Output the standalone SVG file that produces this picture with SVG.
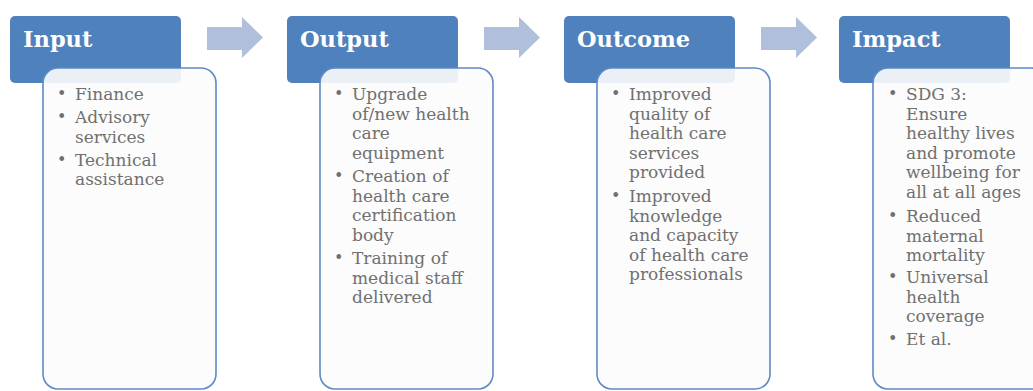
<svg xmlns="http://www.w3.org/2000/svg" width="1033" height="391" viewBox="0 0 1033 391">
<style>
.hdr{fill:#4f81bd}
.box{fill:#fcfcfc;fill-opacity:0.9;stroke:#5f89c5;stroke-width:1.6}
.ht{font-family:"DejaVu Serif","Liberation Serif",serif;font-weight:bold;font-size:22.5px;fill:#ffffff}
.t{font-family:"DejaVu Serif","Liberation Serif",serif;font-size:17px;fill:#707070}
.b{font-family:"DejaVu Serif","Liberation Serif",serif;font-size:16px;fill:#707070}
.arr{fill:#b0bfdb}
</style>
<rect width="1033" height="391" fill="#ffffff"/>
<g id="connectors">
<polygon class="arr" points="207,27 242,27 242,17 263,37.5 242,58 242,50 207,50"/>
<polygon class="arr" points="484,27 519,27 519,17 540,37.5 519,58 519,50 484,50"/>
<polygon class="arr" points="761,27 796,27 796,17 817,37.5 796,58 796,50 761,50"/>
</g>
<g id="input">
<rect class="hdr" x="10" y="16" width="171" height="67" rx="5"/>
<text class="ht" x="23" y="47">Input</text>
<rect class="box" x="43" y="68" width="173" height="321" rx="15"/>
<text class="b" x="57" y="99">•</text><text class="t" x="75" y="100">Finance</text>
<text class="b" x="57" y="122">•</text><text class="t" x="75" y="123">Advisory</text>
<text class="t" x="75" y="143">services</text>
<text class="b" x="57" y="165">•</text><text class="t" x="75" y="166">Technical</text>
<text class="t" x="75" y="185">assistance</text>
</g>
<g id="output">
<rect class="hdr" x="287" y="16" width="171" height="67" rx="5"/>
<text class="ht" x="300" y="47">Output</text>
<rect class="box" x="320" y="68" width="173" height="321" rx="15"/>
<text class="b" x="334" y="99">•</text><text class="t" x="352" y="100">Upgrade</text>
<text class="t" x="352" y="119.5">of/new health</text>
<text class="t" x="352" y="139">care</text>
<text class="t" x="352" y="158.5">equipment</text>
<text class="b" x="334" y="181">•</text><text class="t" x="352" y="182">Creation of</text>
<text class="t" x="352" y="201.5">health care</text>
<text class="t" x="352" y="221">certification</text>
<text class="t" x="352" y="240.5">body</text>
<text class="b" x="334" y="263">•</text><text class="t" x="352" y="264">Training of</text>
<text class="t" x="352" y="283.5">medical staff</text>
<text class="t" x="352" y="303">delivered</text>
</g>
<g id="outcome">
<rect class="hdr" x="564" y="16" width="171" height="67" rx="5"/>
<text class="ht" x="577" y="47">Outcome</text>
<rect class="box" x="597" y="68" width="173" height="321" rx="15"/>
<text class="b" x="611" y="99">•</text><text class="t" x="629" y="100">Improved</text>
<text class="t" x="629" y="119.5">quality of</text>
<text class="t" x="629" y="139">health care</text>
<text class="t" x="629" y="158.5">services</text>
<text class="t" x="629" y="178">provided</text>
<text class="b" x="611" y="201">•</text><text class="t" x="629" y="202">Improved</text>
<text class="t" x="629" y="221.5">knowledge</text>
<text class="t" x="629" y="241">and capacity</text>
<text class="t" x="629" y="260.5">of health care</text>
<text class="t" x="629" y="280">professionals</text>
</g>
<g id="impact">
<rect class="hdr" x="839" y="16" width="171" height="67" rx="5"/>
<text class="ht" x="852" y="47">Impact</text>
<rect class="box" x="873" y="68" width="173" height="321" rx="15"/>
<text class="b" x="888" y="99">•</text><text class="t" x="906" y="100">SDG 3:</text>
<text class="t" x="906" y="119.5">Ensure</text>
<text class="t" x="906" y="139">healthy lives</text>
<text class="t" x="906" y="158.5">and promote</text>
<text class="t" x="906" y="178">wellbeing for</text>
<text class="t" x="906" y="197.5">all at all ages</text>
<text class="b" x="888" y="221">•</text><text class="t" x="906" y="222">Reduced</text>
<text class="t" x="906" y="241.5">maternal</text>
<text class="t" x="906" y="261">mortality</text>
<text class="b" x="888" y="282">•</text><text class="t" x="906" y="283">Universal</text>
<text class="t" x="906" y="302.5">health</text>
<text class="t" x="906" y="322">coverage</text>
<text class="b" x="888" y="344">•</text><text class="t" x="906" y="345">Et al.</text>
</g>
</svg>
